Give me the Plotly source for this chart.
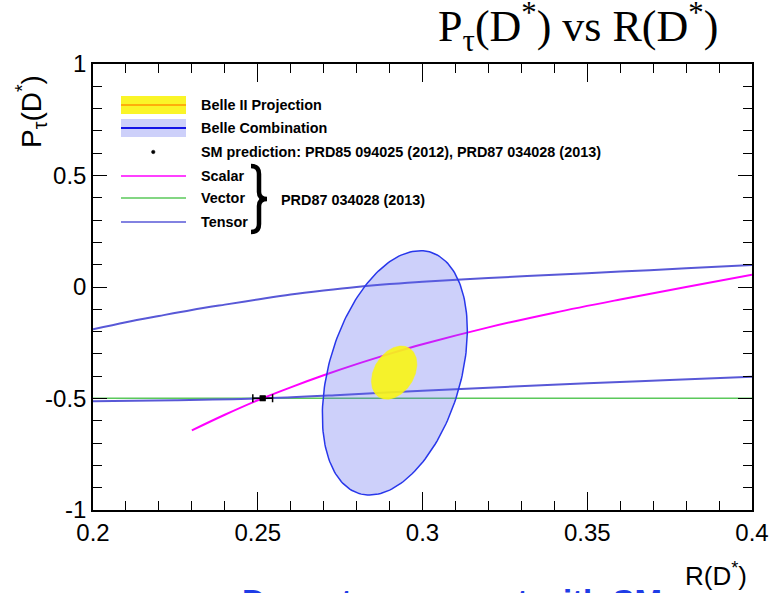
import numpy as np
import plotly.graph_objects as go

# ---------------- data ----------------
x_tick_vals = [0.2, 0.25, 0.3, 0.35, 0.4]
x_tick_labels = ["0.2", "0.25", "0.3", "0.35", "0.4"]
y_tick_vals = [-1, -0.5, 0, 0.5, 1]
y_tick_labels = ["-1", "-0.5", "0", "0.5", "1"]

scalar_r = [0.23, 0.24, 0.25, 0.26, 0.27, 0.28, 0.29, 0.30, 0.32, 0.34, 0.36, 0.38, 0.40]
scalar_p = [-0.643, -0.573, -0.508, -0.450, -0.396, -0.346, -0.300, -0.257, -0.181, -0.115, -0.056, 0.000, 0.055]

vector_r = [0.20, 0.40]
vector_p = [-0.499, -0.499]

tensor_up_r = [0.20, 0.21, 0.22, 0.23, 0.24, 0.25, 0.26, 0.27, 0.28, 0.29, 0.30, 0.32, 0.34, 0.36, 0.38, 0.40]
tensor_up_p = [-0.190, -0.158, -0.130, -0.103, -0.079, -0.056, -0.034, -0.016, 0.000, 0.013, 0.024, 0.040, 0.055, 0.069, 0.084, 0.099]
tensor_lo_r = [0.20, 0.225, 0.25, 0.275, 0.30, 0.325, 0.35, 0.375, 0.40]
tensor_lo_p = [-0.512, -0.508, -0.500, -0.484, -0.465, -0.448, -0.432, -0.417, -0.402]

sm_r = [0.2515]
sm_p = [-0.499]
sm_r_err = [0.003]
sm_p_err = [0.008]

# ellipses: centre, half-extent in R and P, correlation
belle_comb_center = [0.2916, -0.385]
belle_comb_halfwidth = [0.0220, 0.548]
belle_comb_rho = 0.35

belle2_center = [0.2914, -0.384]
belle2_halfwidth = [0.0069, 0.1195]
belle2_rho = 0.32

legend_labels = ["Belle II Projection", "Belle Combination",
                 "SM prediction: PRD85 094025 (2012), PRD87 034028 (2013)",
                 "Scalar", "Vector", "Tensor"]


def ellipse(center, half, rho, n=200):
    t = np.linspace(0, 2 * np.pi, n)
    x = center[0] + half[0] * np.cos(t)
    y = center[1] + half[1] * (rho * np.cos(t) + np.sqrt(1 - rho ** 2) * np.sin(t))
    return x, y


# ---------------- layout helpers (pixel -> paper) ----------------
L, R, T, B = 93, 752, 64, 510
W, H = 772, 593


def px(xp):
    return (xp - L) / (R - L)


def py(yp):
    return (B - yp) / (B - T)


TENSOR = "rgb(88,88,215)"
SCALAR = "rgb(255,0,255)"
VECTOR = "rgb(90,200,90)"
BLUE_LINE = "rgb(40,55,235)"

fig = go.Figure()

fig.add_trace(go.Scatter(x=vector_r, y=vector_p, mode="lines",
                         line=dict(color=VECTOR, width=1.5), showlegend=False))
fig.add_trace(go.Scatter(x=tensor_up_r, y=tensor_up_p, mode="lines", line_shape="spline",
                         line=dict(color=TENSOR, width=2), showlegend=False))
fig.add_trace(go.Scatter(x=tensor_lo_r, y=tensor_lo_p, mode="lines", line_shape="spline",
                         line=dict(color=TENSOR, width=2), showlegend=False))
fig.add_trace(go.Scatter(x=scalar_r, y=scalar_p, mode="lines", line_shape="spline",
                         line=dict(color=SCALAR, width=2), showlegend=False))

ex, ey = ellipse(belle_comb_center, belle_comb_halfwidth, belle_comb_rho)
fig.add_trace(go.Scatter(x=ex, y=ey, mode="lines", fill="toself",
                         fillcolor="rgba(90,100,240,0.30)",
                         line=dict(color=BLUE_LINE, width=1.5), showlegend=False))
ex2, ey2 = ellipse(belle2_center, belle2_halfwidth, belle2_rho)
fig.add_trace(go.Scatter(x=ex2, y=ey2, mode="lines", fill="toself",
                         fillcolor="rgba(250,245,20,0.90)",
                         line=dict(color="rgba(250,245,20,0.9)", width=0.5), showlegend=False))

fig.add_trace(go.Scatter(x=sm_r, y=sm_p, mode="markers",
                         marker=dict(color="black", size=6, symbol="square"),
                         error_x=dict(type="data", array=sm_r_err, color="black", thickness=1.5, width=4),
                         error_y=dict(type="data", array=sm_p_err, color="black", thickness=1.5, width=3),
                         showlegend=False))

shapes = []
annotations = []

# legend
lx0, lx1 = 121, 186
rows_y = [105, 128, 152, 176, 198, 222]
shapes.append(dict(type="rect", xref="paper", yref="paper", x0=px(lx0), x1=px(lx1),
                   y0=py(114), y1=py(96), fillcolor="rgb(250,245,40)", line=dict(width=0)))
shapes.append(dict(type="line", xref="paper", yref="paper", x0=px(lx0), x1=px(lx1),
                   y0=py(105), y1=py(105), line=dict(color="rgb(255,150,0)", width=1.5)))
shapes.append(dict(type="rect", xref="paper", yref="paper", x0=px(lx0), x1=px(lx1),
                   y0=py(137), y1=py(119), fillcolor="rgb(205,208,250)", line=dict(width=0)))
shapes.append(dict(type="line", xref="paper", yref="paper", x0=px(lx0), x1=px(lx1),
                   y0=py(128), y1=py(128), line=dict(color="rgb(20,20,230)", width=2)))
shapes.append(dict(type="circle", xref="paper", yref="paper", x0=px(151.5), x1=px(155),
                   y0=py(153.7), y1=py(150.2), fillcolor="black", line=dict(color="black", width=0.5)))
for yy, col in zip(rows_y[3:], [SCALAR, VECTOR, TENSOR]):
    shapes.append(dict(type="line", xref="paper", yref="paper", x0=px(lx0), x1=px(lx1),
                       y0=py(yy), y1=py(yy), line=dict(color=col, width=1.5)))

for yy, lab in zip(rows_y, legend_labels):
    annotations.append(dict(xref="paper", yref="paper", x=px(199), y=py(yy), text="<b>%s</b>" % lab,
                            showarrow=False, xanchor="left", yanchor="middle",
                            font=dict(family="Liberation Sans", size=14.4, color="black")))

# brace
pts = [(251, 166), (259, 166), (259, 174), (259, 192), (259, 199), (267, 199),
       (259, 199), (259, 206), (259, 224), (259, 232), (251, 232)]
P = [(px(a), py(b)) for a, b in pts]
path = ("M {0[0]},{0[1]} Q {1[0]},{1[1]} {2[0]},{2[1]} L {3[0]},{3[1]} "
        "Q {4[0]},{4[1]} {5[0]},{5[1]} Q {6[0]},{6[1]} {7[0]},{7[1]} "
        "L {8[0]},{8[1]} Q {9[0]},{9[1]} {10[0]},{10[1]}").format(*P)
shapes.append(dict(type="path", xref="paper", yref="paper", path=path,
                   line=dict(color="black", width=4.5)))
annotations.append(dict(xref="paper", yref="paper", x=px(279), y=py(200), text="<b>PRD87 034028 (2013)</b>",
                        showarrow=False, xanchor="left", yanchor="middle",
                        font=dict(family="Liberation Sans", size=14.4, color="black")))

# titles
annotations.append(dict(xref="paper", yref="paper", x=px(578), y=py(27),
                        text="P<sub>τ</sub>(D<sup>*</sup>) vs R(D<sup>*</sup>)",
                        showarrow=False, xanchor="center", yanchor="middle",
                        font=dict(family="Liberation Serif", size=44, color="black")))
annotations.append(dict(xref="paper", yref="paper", x=px(31), y=py(111),
                        text="P<sub>τ</sub>(D<sup>*</sup>)", textangle=-90,
                        showarrow=False, xanchor="center", yanchor="middle",
                        font=dict(family="Liberation Sans", size=28, color="black")))
annotations.append(dict(xref="paper", yref="paper", x=px(716), y=py(574),
                        text="R(D<sup>*</sup>)",
                        showarrow=False, xanchor="center", yanchor="middle",
                        font=dict(family="Liberation Sans", size=26, color="black")))
annotations.append(dict(xref="paper", yref="paper", x=px(452), y=py(581),
                        text="<b>Decent agreement with SM</b>",
                        showarrow=False, xanchor="center", yanchor="top",
                        font=dict(family="Liberation Sans", size=33, color="rgb(30,60,230)")))

fig.update_layout(
    width=W, height=H,
    margin=dict(l=L, r=W - R, t=T, b=H - B, autoexpand=False),
    paper_bgcolor="white", plot_bgcolor="white",
    shapes=shapes, annotations=annotations,
    showlegend=False,
)
fig.update_xaxes(range=[0.2, 0.4], tickvals=x_tick_vals, ticktext=x_tick_labels, automargin=False,
                 ticks="inside", ticklen=18, tickwidth=1.2, tickcolor="black",
                 minor=dict(dtick=0.01, ticks="inside", ticklen=9, tickcolor="black", tickwidth=1.2),
                 showline=True, linecolor="black", linewidth=1.5, mirror="allticks",
                 showgrid=False, zeroline=False,
                 tickfont=dict(family="Liberation Sans", size=24, color="black"))
fig.update_yaxes(range=[-1, 1], tickvals=y_tick_vals, ticktext=y_tick_labels, automargin=False,
                 ticks="inside", ticklen=14, tickwidth=1.2, tickcolor="black",
                 minor=dict(dtick=0.1, ticks="inside", ticklen=9, tickcolor="black", tickwidth=1.2),
                 showline=True, linecolor="black", linewidth=1.5, mirror="allticks",
                 showgrid=False, zeroline=False,
                 tickfont=dict(family="Liberation Sans", size=24, color="black"))

fig.write_html("out.html")
